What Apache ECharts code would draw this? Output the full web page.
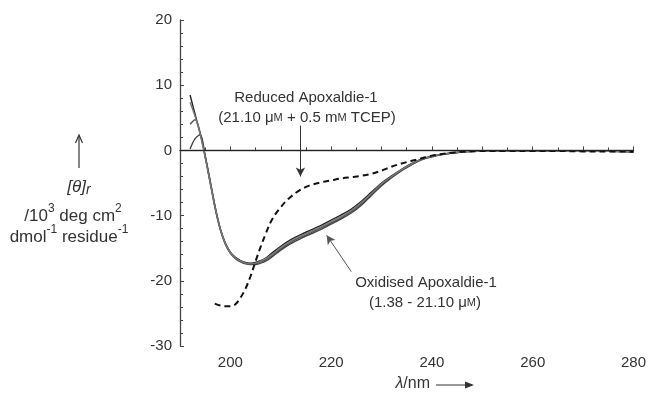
<!DOCTYPE html>
<html>
<head>
<meta charset="utf-8">
<script src="https://cdn.jsdelivr.net/npm/echarts@6/dist/echarts.min.js"></script>
<style>
  html, body { margin: 0; padding: 0; background: #fff; }
  #cd { width: 649px; height: 394px; }
</style>
</head>
<body>
<div id="cd"></div>
<script>
// wavelength grid (nm) shared by the oxidised traces
const wavelength = [192, 193, 194, 195, 196, 197, 198, 199, 200, 201, 202, 203, 204, 205, 206, 207, 208,
  210, 212, 214, 216, 218, 220, 222, 224, 226, 228, 230, 232, 234, 236, 238, 240, 242, 244, 246, 248,
  250, 255, 260, 265, 270, 275, 280];

// oxidised Apoxaldie-1, several concentrations (1.38 - 21.10 uM)
const oxA = [8.5, 5.5, 2.6, -0.9, -4.8, -8.8, -12.0, -14.2, -15.6, -16.4, -16.9, -17.2, -17.3, -17.2, -16.9, -16.5, -15.9,
  -14.7, -13.7, -12.9, -12.2, -11.5, -10.7, -9.9, -9.0, -7.8, -6.4, -5.0, -3.9, -2.9, -2.0, -1.3, -0.9, -0.6, -0.4, -0.25, -0.15,
  -0.1, -0.1, -0.1, -0.1, -0.15, -0.15, -0.2];
const oxB = [4.0, 4.7, 2.7, -0.8, -4.7, -8.7, -12.0, -14.3, -15.7, -16.5, -17.0, -17.3, -17.4, -17.4, -17.1, -16.8, -16.3,
  -15.1, -14.1, -13.3, -12.6, -11.9, -11.1, -10.3, -9.4, -8.2, -6.8, -5.3, -4.1, -3.0, -2.1, -1.4, -0.9, -0.6, -0.4, -0.25, -0.15,
  -0.1, -0.1, -0.1, -0.1, -0.15, -0.15, -0.2];
const oxC = [0.2, 1.8, 2.4, -1.0, -5.0, -9.0, -12.2, -14.4, -15.8, -16.6, -17.1, -17.4, -17.5, -17.5, -17.3, -17.0, -16.5,
  -15.3, -14.3, -13.5, -12.8, -12.1, -11.3, -10.5, -9.6, -8.4, -6.9, -5.4, -4.2, -3.1, -2.2, -1.4, -1.0, -0.65, -0.4, -0.25, -0.15,
  -0.1, -0.1, -0.1, -0.1, -0.15, -0.15, -0.2];
const oxD = [7.4, 5.2, 2.5, -1.1, -5.0, -8.9, -12.1, -14.3, -15.7, -16.5, -17.0, -17.3, -17.4, -17.3, -17.0, -16.6, -16.1,
  -14.9, -13.9, -13.1, -12.4, -11.7, -10.9, -10.1, -9.2, -8.0, -6.6, -5.1, -4.0, -2.95, -2.05, -1.35, -0.9, -0.6, -0.4, -0.25, -0.15,
  -0.1, -0.1, -0.1, -0.1, -0.15, -0.15, -0.2];

// reduced Apoxaldie-1 (21.10 uM + 0.5 mM TCEP)
const redWave = [196.9, 198, 199, 200, 201, 202, 203, 204, 205, 206, 207, 208, 209, 210, 211, 212, 213, 214, 215, 216,
  218, 220, 222, 224, 226, 228, 230, 232, 234, 236, 238, 240, 242, 244, 246, 248, 250, 255, 260, 265, 270, 275, 280];
const reduced = [-23.5, -23.8, -23.9, -23.9, -23.6, -22.6, -21.2, -19.3, -17.0, -14.8, -12.8, -11.0, -9.7, -8.7, -7.8, -7.1,
  -6.5, -6.0, -5.6, -5.3, -4.9, -4.6, -4.3, -4.1, -3.9, -3.6, -3.1, -2.5, -2.0, -1.6, -1.2, -0.8, -0.55, -0.35, -0.2, -0.15,
  -0.1, -0.1, -0.1, -0.1, -0.15, -0.15, -0.2];

const xTickLabels = [200, 220, 240, 260, 280];
const yTickLabels = [-30, -20, -10, 0, 10, 20];

const FONT = "'Liberation Sans', Arial, sans-serif";
const pairs = (xs, ys) => xs.map((x, i) => [x, ys[i]]);

const chart = echarts.init(document.getElementById("cd"));

const oxSeries = [
  { values: oxA, color: "#222" },
  { values: oxB, color: "#555" },
  { values: oxC, color: "#444" },
  { values: oxD, color: "#777" },
].map((t) => ({
  type: "line",
  data: pairs(wavelength, t.values),
  showSymbol: false,
  smooth: 0.35,
  lineStyle: { color: t.color, width: 1.4 },
  z: 3,
}));

const option = {
  animation: false,
  backgroundColor: "#fff",
  grid: { left: 180, right: 14, top: 20, bottom: 48, containLabel: false },
  xAxis: {
    type: "value",
    min: 190,
    max: 280,
    interval: 10,
    axisLine: { lineStyle: { color: "#444", width: 1.3 } },
    axisTick: { inside: true, length: 4, lineStyle: { color: "#444" } },
    minorTick: { show: true, splitNumber: 2, length: 3, lineStyle: { color: "#444" } },
    splitLine: { show: false },
    axisLabel: {
      margin: 9,
      color: "#333",
      fontFamily: FONT,
      fontSize: 15,
      formatter: (v) => (xTickLabels.includes(v) ? String(v) : ""),
    },
  },
  yAxis: {
    type: "value",
    min: -30,
    max: 20,
    interval: 10,
    axisLine: { show: true, lineStyle: { color: "#444", width: 1.3 } },
    axisTick: { show: true, inside: true, length: 4, lineStyle: { color: "#444" } },
    minorTick: { show: true, splitNumber: 5, length: 3, lineStyle: { color: "#444" } },
    splitLine: { show: false },
    axisLabel: {
      margin: 8,
      color: "#333",
      fontFamily: FONT,
      fontSize: 15,
      formatter: (v) => (yTickLabels.includes(v) ? String(v) : ""),
    },
  },
  series: [
    ...oxSeries,
    {
      type: "line",
      data: pairs(redWave, reduced),
      showSymbol: false,
      smooth: 0.35,
      lineStyle: { color: "#111", width: 2, type: [6, 4] },
      z: 4,
      markLine: {
        silent: true,
        animation: false,
        label: { show: false },
        data: [
          [
            { coord: [190, 0], symbol: "none" },
            { coord: [280, 0], symbol: "none" },
          ],
          [
            { coord: [213.9, 3.8], symbol: "none", lineStyle: { color: "#333", width: 1, type: "solid" } },
            { coord: [213.9, -4.0], symbol: "arrow", symbolSize: [7, 9] },
          ],
          [
            { coord: [224.0, -18.6], symbol: "none", lineStyle: { color: "#555", width: 1, type: "solid" } },
            { coord: [219.1, -13.0], symbol: "arrow", symbolSize: [7, 9] },
          ],
        ],
        lineStyle: { color: "#222", width: 1.2, type: "solid" },
      },
    },
  ],
  graphic: [
    // annotation texts
    {
      type: "text",
      style: {
        x: 306, y: 98, text: "Reduced Apoxaldie-1",
        font: "15px " + FONT, fill: "#333", textAlign: "center", textVerticalAlign: "middle",
      },
    },
    {
      type: "text",
      style: {
        x: 307, y: 118, text: "(21.10 \u03bc{sc|M} + 0.5 m{sc|M} TCEP)",
        font: "15px " + FONT, fill: "#333", textAlign: "center", textVerticalAlign: "middle",
        rich: { sc: { fontSize: 11, fontFamily: FONT, fill: "#333" } },
      },
    },
    {
      type: "text",
      style: {
        x: 426, y: 283, text: "Oxidised Apoxaldie-1",
        font: "15px " + FONT, fill: "#333", textAlign: "center", textVerticalAlign: "middle",
      },
    },
    {
      type: "text",
      style: {
        x: 425, y: 303, text: "(1.38 - 21.10 \u03bc{sc|M})",
        font: "15px " + FONT, fill: "#333", textAlign: "center", textVerticalAlign: "middle",
        rich: { sc: { fontSize: 11, fontFamily: FONT, fill: "#333" } },
      },
    },
    // y axis title block
    { type: "line", shape: { x1: 79, y1: 168, x2: 79, y2: 136 }, style: { stroke: "#333", lineWidth: 1.2 } },
    { type: "polyline", shape: { points: [[75.5, 143], [79, 135], [82.5, 143]] }, style: { stroke: "#333", lineWidth: 1.2, fill: null } },
    {
      type: "text",
      style: {
        x: 79, y: 187, text: "{i|[\u03b8]}{sub|r}",
        textAlign: "center", textVerticalAlign: "middle",
        rich: {
          i: { fontSize: 17, fontStyle: "italic", fontFamily: FONT, fill: "#333", lineHeight: 20 },
          sub: { fontSize: 14, fontStyle: "italic", fontFamily: FONT, fill: "#333", lineHeight: 20, verticalAlign: "bottom", padding: [6, 0, 0, 0] },
        },
      },
    },
    {
      type: "text",
      style: {
        x: 73, y: 214, text: "{n|/10}{s|3}{n| deg cm}{s|2}",
        textAlign: "center", textVerticalAlign: "middle",
        rich: {
          n: { fontSize: 17, fontFamily: FONT, fill: "#333", lineHeight: 22, verticalAlign: "bottom" },
          s: { fontSize: 12, fontFamily: FONT, fill: "#333", lineHeight: 22, verticalAlign: "top" },
        },
      },
    },
    {
      type: "text",
      style: {
        x: 69, y: 235, text: "{n|dmol}{s|-1}{n| residue}{s|-1}",
        textAlign: "center", textVerticalAlign: "middle",
        rich: {
          n: { fontSize: 17, fontFamily: FONT, fill: "#333", lineHeight: 22, verticalAlign: "bottom" },
          s: { fontSize: 12, fontFamily: FONT, fill: "#333", lineHeight: 22, verticalAlign: "top" },
        },
      },
    },
    // x axis title
    {
      type: "text",
      style: {
        x: 430, y: 384, text: "{i|\u03bb}{n|/nm}",
        textAlign: "right", textVerticalAlign: "middle",
        rich: {
          i: { fontSize: 16, fontStyle: "italic", fontFamily: FONT, fill: "#333" },
          n: { fontSize: 16, fontFamily: FONT, fill: "#333" },
        },
      },
    },
    { type: "line", shape: { x1: 436, y1: 385, x2: 472, y2: 385 }, style: { stroke: "#333", lineWidth: 1.2 } },
    { type: "polygon", shape: { points: [[465, 381.5], [474, 385], [465, 388.5]] }, style: { fill: "#333" } },
  ],
};

chart.setOption(option);
window.addEventListener("resize", () => chart.resize());
</script>
</body>
</html>
